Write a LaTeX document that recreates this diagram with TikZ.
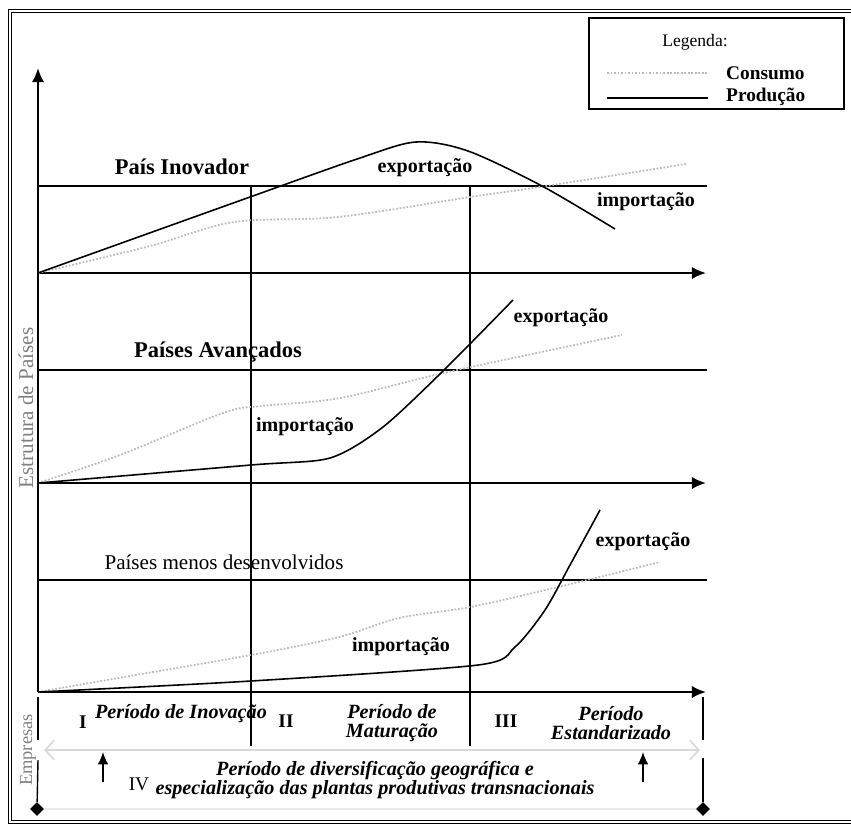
\documentclass[tikz,border=0pt]{standalone}
\usepackage{fontspec}
\setmainfont{Liberation Serif}
\usetikzlibrary{arrows.meta}
\usetikzlibrary{shapes.geometric}

\tikzset{
  axis/.style={line width=1.3pt,-{Latex[length=8pt,width=7pt]}},
  level/.style={line width=1.3pt},
  period/.style={line width=0.8pt},
  prod/.style={line width=0.9pt},
  cons/.style={line width=1pt,gray!55,densely dotted},
  head/.style={font=\fontsize{12.8}{14}\selectfont\bfseries},
  flow/.style={font=\fontsize{11.4}{13}\selectfont\bfseries},
  phase/.style={font=\fontsize{11.5}{11}\selectfont\bfseries\itshape,align=center},
  roman/.style={font=\fontsize{11}{13}\selectfont\bfseries},
  tip/.style={diamond,fill=black,inner sep=0pt,minimum size=8pt},
}

\begin{document}
\begin{tikzpicture}[x=0.02cm,y=-0.02cm]
                \useasboundingbox (0,0) rectangle (851,826);

                % Drawing frame
                \draw [line width=0.6pt,double distance=1.2pt] (851,11) -- (10,11) -- (10,822) -- (851,822);%

                % Drawing legend
                \node (legend) [draw,line width=1pt,anchor=north west,minimum width=5.1cm,minimum height=1.82cm] at (588,17) {};%
                \node (legtitle) [font=\fontsize{10}{12}\selectfont] at (695,42) {Legenda:};%
                \coordinate (cleft) at (607,73);
                \coordinate (cright) at (708,73);
                \draw [cons] (cleft) -- (cright);%
                \node (lcons) [anchor=west,font=\fontsize{11}{13}\selectfont\bfseries] at (720,73) {Consumo};%
                \coordinate (pleft) at (607,98);
                \coordinate (pright) at (708,98);
                \draw [prod] (pleft) -- (pright);%
                \node (lprod) [anchor=west,font=\fontsize{11}{13}\selectfont\bfseries] at (720,97) {Produção};%

                % Marking axes
                \coordinate (top) at (38,68);
                \coordinate (o1) at (38,273);
                \coordinate (e1) at (706,273);
                \coordinate (o2) at (38,483);
                \coordinate (e2) at (706,483);
                \coordinate (o3) at (38,692);
                \coordinate (e3) at (706,692);
                \draw [axis] (o3) -- (top);%
                \foreach \o/\e in {o1/e1,o2/e2,o3/e3}
                  \draw [axis] (\o) -- (\e);%

                % Drawing level lines
                \foreach \y in {186,370,580}
                  \draw [level] (38,\y) -- (707,\y);%

                % Drawing period lines
                \draw [period] (251,186) -- (251,746);%
                \draw [period] (470,186) -- (470,746);%

                % Drawing line Empresas
                \node (dl) [tip] at (37,809) {};%
                \node (dr) [tip] at (703,809) {};%
                \draw [period] (38,697) -- (38,740);%
                \draw [period] (38,760) -- (dl);%
                \draw [period] (703,697) -- (703,740);%
                \draw [period] (703,758) -- (dr);%
                \draw [gray!30,line width=1pt,{Straight Barb[length=5pt,width=11pt]}-{Straight Barb[length=5pt,width=11pt]}] (44,750) -- (700,750);%
                \draw [gray!18,line width=1pt] (dl) -- (dr);%

                % Marking arrows up
                \draw [line width=0.8pt,-{Latex[length=7pt,width=6pt]}] (103,782) -- (103,752);%
                \draw [line width=0.8pt,-{Latex[length=7pt,width=6pt]}] (643,782) -- (643,752);%

                % Drawing curves Pais Inovador
                \draw [cons] plot [smooth,tension=0.55] coordinates {(38,273) (150,246) (234,222) (338,217) (470,197) (546,186) (686,164)};%
                \draw [prod] plot [smooth,tension=0.5] coordinates {(38,273) (250,197) (360,158) (416,142) (468,151) (542,186) (615,229)};%

                % Drawing curves Paises Avancados
                \draw [cons] plot [smooth,tension=0.55] coordinates {(38,483) (120,455) (223,413) (262,406) (340,398) (448,372) (622,335)};%
                \draw [prod] plot [smooth,tension=0.45] coordinates {(38,483) (251,465) (330,458) (383,427) (444,370) (513,300)};%

                % Drawing curves Paises menos desenvolvidos
                \draw [cons] plot [smooth,tension=0.55] coordinates {(38,692) (124,677) (251,655) (339,637) (399,618) (470,607) (558,587) (660,562)};%
                \draw [prod] plot [smooth,tension=0.45] coordinates {(38,692) (251,681) (478,665) (515,647) (545,610) (570,565) (600,510)};%

                % Marking country labels
                \node (inov) [head] at (182,167) {País Inovador};%
                \node (avan) [head] at (218,352) {Países Avançados};%
                \node (menos) [font=\fontsize{12}{14}\selectfont] at (224,562) {Países menos desenvolvidos};%

                % Marking flow labels
                \node (exp1) [flow] at (425,168) {exportação};%
                \node (imp1) [flow] at (646,202) {importação};%
                \node (exp2) [flow] at (561,318) {exportação};%
                \node (imp2) [flow] at (305,427) {importação};%
                \node (exp3) [flow] at (643,542) {exportação};%
                \node (imp3) [flow] at (401,647) {importação};%

                % Marking axis labels
                \node (estr) [rotate=90,gray,font=\fontsize{12}{14}\selectfont] at (26,408) {Estrutura de Países};%
                \node (empr) [rotate=90,gray,font=\fontsize{10.5}{12}\selectfont] at (28,750) {Empresas};%

                % Marking periods
                \node (r1) [roman] at (83,722) {I};%
                \node (ph1) [phase] at (181,714) {Período de Inovação};%
                \node (r2) [roman] at (286,721) {II};%
                \node (ph2) [phase] at (392,723) {Período de\\Maturação};%
                \node (r3) [roman] at (506,721) {III};%
                \node (ph3) [phase] at (611,723) {Período\\Estandarizado};%
                \node (r4) [font=\fontsize{11}{13}\selectfont] at (139,784) {IV};%
                \node (ph4) [phase] at (375,780) {Período de diversificação geográfica e\\especialização das plantas produtivas transnacionais};%
\end{tikzpicture}
\end{document}
